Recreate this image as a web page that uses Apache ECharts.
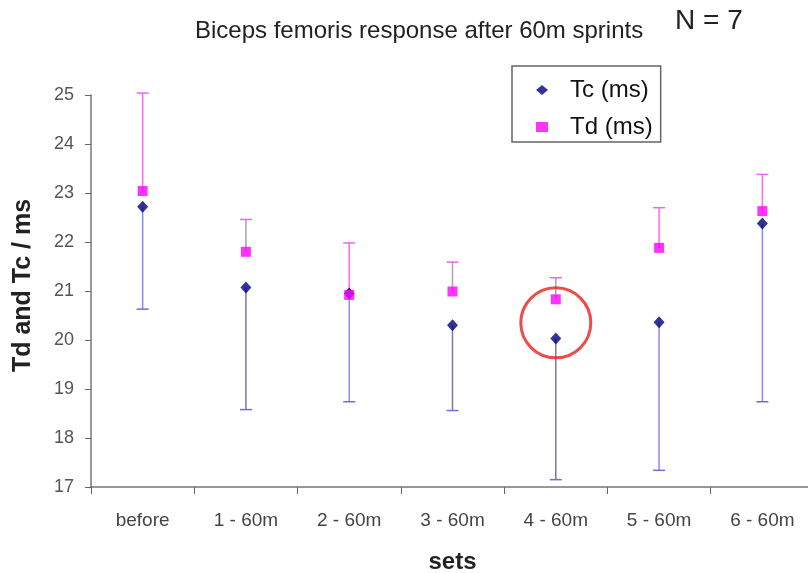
<!DOCTYPE html>
<html>
<head>
<meta charset="utf-8">
<script src="https://cdn.jsdelivr.net/npm/echarts@6/dist/echarts.min.js"></script>
<style>
  html, body { margin: 0; padding: 0; background: #fff; }
  #chart { width: 808px; height: 573px; }
</style>
</head>
<body>
<div id="chart"></div>
<script>
  // data
  const categories = ['before', '1 - 60m', '2 - 60m', '3 - 60m', '4 - 60m', '5 - 60m', '6 - 60m']
  const tcMean = [22.72, 21.07, 20.95, 20.30, 20.03, 20.36, 22.38]
  const tcLower = [20.63, 18.58, 18.74, 18.56, 17.15, 17.34, 18.74]
  const tdMean = [23.04, 21.80, 20.92, 20.99, 20.83, 21.88, 22.63]
  const tdUpper = [25.04, 22.46, 21.98, 21.59, 21.27, 22.70, 23.38]
  const yTicks = { min: 17, max: 25, step: 1 }
  const circleMark = ['4 - 60m', 20.35]

  // stems that came out grey in the original
  const greyStems = [1, 3, 4]

  const chart = echarts.init(document.getElementById('chart'))
  const font = 'Liberation Sans, Arial, sans-serif'

  // vertical whisker from low to high, cap on the far end
  function stemSeries(lowArr, highArr, capAtLow, colorFn, capColorFn) {
    return {
      type: 'custom',
      silent: true,
      z: 1,
      data: categories.map((c, i) => [i, lowArr[i], highArr[i]]),
      renderItem(params, api) {
        const i = api.value(0)
        const lo = api.coord([i, api.value(1)])
        const hi = api.coord([i, api.value(2)])
        const x = lo[0]
        const cy = capAtLow ? lo[1] : hi[1]
        return {
          type: 'group',
          children: [
            { type: 'line', shape: { x1: x, y1: lo[1], x2: x, y2: hi[1] }, style: { stroke: colorFn(i), lineWidth: 1.5 } },
            { type: 'line', shape: { x1: x - 6, y1: cy, x2: x + 6, y2: cy }, style: { stroke: capColorFn(i), lineWidth: 1.5 } }
          ]
        }
      }
    }
  }

  const option = {
    animation: false,
    title: [
      {
        text: 'Biceps femoris response after 60m sprints',
        left: 195, top: 19, padding: 0,
        textStyle: { fontFamily: font, fontSize: 24, fontWeight: 'normal', color: '#222' }
      },
      {
        text: 'N = 7',
        left: 675, top: 7, padding: 0,
        textStyle: { fontFamily: font, fontSize: 28, fontWeight: 'normal', color: '#222' }
      }
    ],
    legend: {
      data: ['Tc (ms)', 'Td (ms)'],
      orient: 'vertical',
      left: 512, top: 66,
      padding: [12, 8, 3, 24],
      itemGap: 13,
      itemWidth: 12, itemHeight: 10,
      borderColor: '#666', borderWidth: 1.5,
      textStyle: { fontFamily: font, fontSize: 24, lineHeight: 24, color: '#111', padding: [0, 0, 0, 17] }
    },
    grid: { left: 91, top: 95, width: 723, height: 392, outerBoundsMode: 'none' },
    xAxis: {
      type: 'category',
      data: categories,
      boundaryGap: true,
      name: 'sets',
      nameLocation: 'middle',
      nameGap: 63,
      nameTextStyle: { fontFamily: font, fontSize: 24, fontWeight: 'bold', color: '#222' },
      axisLine: { lineStyle: { color: '#777', width: 1.5 } },
      axisTick: { show: true, length: 7, lineStyle: { color: '#666' } },
      axisLabel: { fontFamily: font, fontSize: 19, color: '#444', margin: 24 },
      splitLine: { show: false }
    },
    yAxis: {
      type: 'value',
      min: yTicks.min,
      max: yTicks.max,
      interval: yTicks.step,
      name: 'Td and Tc / ms',
      nameLocation: 'middle',
      nameGap: 55,
      nameRotate: 90,
      nameTextStyle: { fontFamily: font, fontSize: 25, fontWeight: 'bold', color: '#222', padding: [0, 0, 0, 11] },
      axisLine: { show: true, lineStyle: { color: '#777', width: 1.5 } },
      axisTick: { show: true, length: 6, lineStyle: { color: '#666' } },
      axisLabel: { fontFamily: font, fontSize: 18, color: '#555', margin: 17 },
      splitLine: { show: false }
    },
    series: [
      stemSeries(tcLower, tcMean, true,
        i => greyStems.includes(i) ? '#7a7a98' : '#8a8aff',
        i => '#6f6fd8'),
      stemSeries(tdMean, tdUpper, false,
        i => greyStems.includes(i) ? '#a9a0b0' : '#ff66ff',
        i => '#ee66ee'),
      {
        name: 'Tc (ms)',
        type: 'scatter',
        z: 3,
        symbol: 'diamond',
        symbolSize: [11, 12],
        itemStyle: { color: '#000080' },
        data: tcMean.map((v, i) => [categories[i], v])
      },
      {
        name: 'Td (ms)',
        type: 'scatter',
        z: 4,
        symbol: 'rect',
        symbolSize: 10,
        itemStyle: { color: '#ff00ff' },
        data: tdMean.map((v, i) => [categories[i], v])
      },
      {
        name: 'mark',
        type: 'scatter',
        z: 5,
        silent: true,
        symbol: 'circle',
        symbolSize: 70,
        itemStyle: { color: 'rgba(0,0,0,0)', borderColor: '#e8201c', borderWidth: 3 },
        data: [circleMark]
      }
    ]
  }

  chart.setOption(option)
</script>
</body>
</html>
